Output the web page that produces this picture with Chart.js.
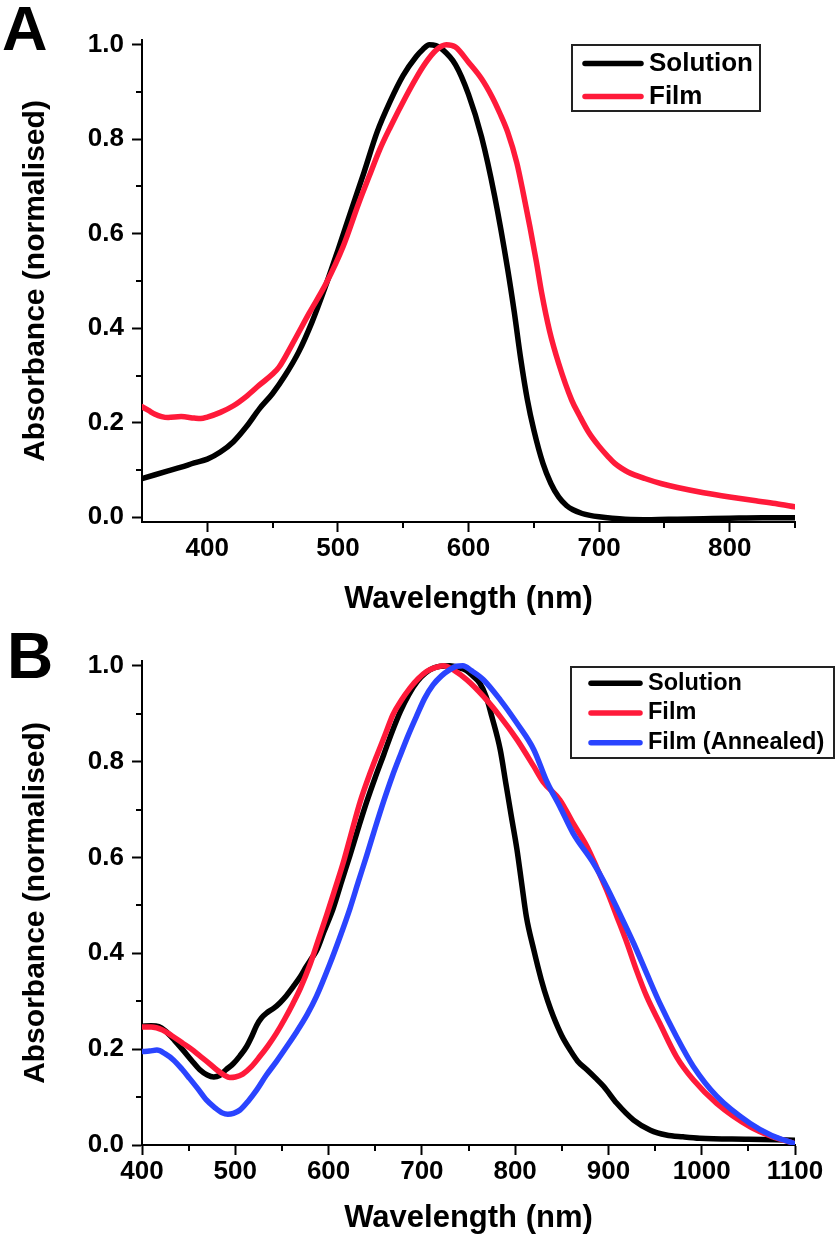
<!DOCTYPE html>
<html><head><meta charset="utf-8">
<script src="https://cdn.jsdelivr.net/npm/chart.js@4.4.0/dist/chart.umd.min.js"></script>
<style>
html,body{margin:0;padding:0;background:#fff;}
#wrap{position:relative;width:838px;height:1243px;overflow:hidden;background:#fff;}
canvas{position:absolute;left:0;}
.panel{position:absolute;font-family:'Liberation Sans',Arial,sans-serif;font-weight:bold;line-height:1;color:#000;}
</style></head>
<body><div id="wrap">
<canvas id="cA" width="838" height="620" style="top:0;width:838px;height:620px"></canvas>
<canvas id="cB" width="838" height="623" style="top:620px;width:838px;height:623px"></canvas>
<div class="panel" style="left:2px;top:-3px;font-size:63px;">A</div>
<div class="panel" style="left:7px;top:624px;font-size:64px;">B</div>
</div>
<script>
// ---------- Panel A ----------
const solA_wl  = [350,360,370,380,390,400,410,420,430,440,450,460,470,480,490,500,510,520,530,540,550,560,565,570,575,580,590,600,610,620,630,635,640,645,650,657,663,669,675,680,687,693,700,710,720,740,760,780,800,825,850];
const solA_abs = [0.082,0.090,0.098,0.106,0.115,0.123,0.138,0.160,0.192,0.230,0.262,0.302,0.350,0.412,0.485,0.565,0.648,0.730,0.815,0.880,0.935,0.975,0.990,1.000,0.998,0.990,0.958,0.895,0.805,0.680,0.525,0.435,0.335,0.250,0.185,0.114,0.072,0.043,0.025,0.016,0.008,0.004,0.001,-0.002,-0.004,-0.005,-0.004,-0.003,-0.002,-0.001,-0.001];
const filmA_wl  = [350,355,360,365,370,380,390,395,400,410,420,430,440,450,455,465,478,491,504,516,524,532,540,552,560,567,575,583,590,600,610,618,624,630,637,642,647,652,656,662,669,679,685,692,700,707,712,717,722,735,748,760,780,800,820,835,850];
const filmA_abs = [0.234,0.226,0.218,0.213,0.211,0.213,0.210,0.209,0.212,0.222,0.236,0.256,0.280,0.303,0.318,0.366,0.432,0.495,0.573,0.665,0.722,0.778,0.825,0.890,0.930,0.961,0.988,1.000,0.995,0.963,0.928,0.890,0.855,0.815,0.750,0.685,0.615,0.540,0.475,0.395,0.326,0.248,0.215,0.180,0.150,0.128,0.114,0.104,0.096,0.082,0.071,0.063,0.052,0.043,0.035,0.029,0.022];

// ---------- Panel B ----------
const solB_wl  = [400,410,418,425,435,444,453,462,470,477,483,490,498,505,512,518,523,528,534,541,548,555,562,570,576,582,587,595,605,614,623,632,641,650,659,668,677,686,695,704,712,720,730,740,748,755,762,769,775,784,790,796,802,807,812,820,828,835,841,850,859,867,877,886,895,909,927,945,962,980,998,1050,1100];
const solB_abs = [0.248,0.249,0.247,0.238,0.218,0.198,0.177,0.157,0.146,0.142,0.145,0.157,0.170,0.186,0.205,0.228,0.250,0.265,0.276,0.285,0.297,0.312,0.330,0.352,0.372,0.390,0.405,0.445,0.494,0.550,0.605,0.662,0.717,0.767,0.814,0.862,0.905,0.940,0.967,0.985,0.995,0.999,1.000,0.996,0.990,0.978,0.964,0.935,0.894,0.825,0.755,0.685,0.616,0.546,0.477,0.407,0.345,0.300,0.268,0.228,0.198,0.175,0.157,0.140,0.122,0.087,0.052,0.031,0.021,0.017,0.014,0.012,0.010];
const filmB_wl  = [400,410,422,432,444,453,462,471,480,488,494,500,508,517,526,535,544,553,562,570,580,589,598,607,616,625,634,643,652,661,669,678,687,696,705,714,723,735,748,766,784,802,820,830,848,862,877,887,898,909,920,930,941,955,973,991,1016,1052,1075,1098];
const filmB_abs = [0.246,0.246,0.240,0.228,0.212,0.200,0.186,0.172,0.157,0.146,0.141,0.142,0.148,0.163,0.184,0.207,0.233,0.263,0.296,0.328,0.376,0.428,0.480,0.535,0.591,0.655,0.717,0.768,0.814,0.858,0.898,0.928,0.953,0.973,0.988,0.996,1.000,0.990,0.971,0.936,0.894,0.846,0.790,0.758,0.720,0.672,0.623,0.581,0.532,0.477,0.421,0.365,0.310,0.254,0.184,0.136,0.087,0.038,0.018,0.004];
const annB_wl  = [400,408,416,425,434,443,451,460,469,478,486,492,498,505,514,523,533,544,555,566,577,587,601,612,623,632,641,650,659,668,677,686,695,703,712,721,730,737,744,753,766,784,802,820,834,848,862,884,898,912,927,941,955,973,991,1016,1052,1075,1098];
const annB_abs = [0.195,0.196,0.198,0.190,0.177,0.158,0.139,0.117,0.094,0.078,0.067,0.064,0.066,0.073,0.092,0.115,0.145,0.174,0.205,0.237,0.272,0.310,0.376,0.433,0.494,0.550,0.605,0.662,0.717,0.768,0.814,0.858,0.898,0.932,0.960,0.979,0.992,0.999,1.000,0.990,0.971,0.929,0.880,0.825,0.758,0.706,0.651,0.588,0.539,0.483,0.421,0.358,0.296,0.226,0.164,0.102,0.045,0.020,0.004];

// ---------- ticks & labels ----------
const xTicksA = [400,500,600,700,800];
const xMinorA = [450,550,650,750,850];
const xTicksB = [400,500,600,700,800,900,1000,1100];
const xMinorB = [450,550,650,750,850,950,1050];
const yTicks  = [0.0,0.2,0.4,0.6,0.8,1.0];
const yMinor  = [0.1,0.3,0.5,0.7,0.9];
const seriesNames = ['Solution','Film','Film (Annealed)'];
const seriesColors = ['#000000','#ff1a3a','#2a44ff'];
const xTitle = 'Wavelength (nm)';
const yTitle = 'Absorbance (normalised)';

const FONT = "'Liberation Sans', Arial, sans-serif";
const pts = (wl, ab) => wl.map((x, i) => ({x: x, y: ab[i]}));

const minorTicks = {
  id: 'minorTicks',
  afterDraw(chart, args, o) {
    const ctx = chart.ctx, xs = chart.scales.x, ys = chart.scales.y;
    ctx.save();
    ctx.strokeStyle = '#000'; ctx.lineWidth = 2;
    (o.x || []).forEach(v => {
      const px = Math.round(xs.getPixelForValue(v));
      ctx.beginPath(); ctx.moveTo(px, xs.top); ctx.lineTo(px, xs.top + o.len); ctx.stroke();
    });
    (o.y || []).forEach(v => {
      const py = Math.round(ys.getPixelForValue(v));
      ctx.beginPath(); ctx.moveTo(ys.right, py); ctx.lineTo(ys.right - o.len, py); ctx.stroke();
    });
    ctx.restore();
  }
};

const boxLegend = {
  id: 'boxLegend',
  afterDraw(chart, args, o) {
    const ctx = chart.ctx;
    ctx.save();
    ctx.lineWidth = 2; ctx.strokeStyle = '#222';
    ctx.strokeRect(o.x, o.y, o.w, o.h);
    chart.data.datasets.forEach((ds, i) => {
      const yy = o.row0 + i * o.gap;
      ctx.beginPath(); ctx.lineCap = 'round'; ctx.lineWidth = 5.5; ctx.strokeStyle = ds.borderColor;
      ctx.moveTo(o.l1, yy); ctx.lineTo(o.l2, yy); ctx.stroke();
      ctx.fillStyle = '#000'; ctx.font = o.font; ctx.textBaseline = 'middle'; ctx.textAlign = 'left';
      ctx.fillText(ds.label, o.tx, yy);
    });
    ctx.restore();
  }
};

function build(id, datasets, p) {
  return new Chart(document.getElementById(id), {
    type: 'line',
    data: {datasets: datasets},
    options: {
      responsive: false, animation: false,
      layout: {padding: {left: 0, top: p.top, right: 43, bottom: 0}},
      plugins: {
        legend: {display: false}, tooltip: {enabled: false},
        minorTicks: {x: p.xMinor, y: yMinor, len: 6},
        boxLegend: p.legend
      },
      elements: {
        point: {radius: 0},
        line: {borderWidth: 5.5, cubicInterpolationMode: 'monotone', borderJoinStyle: 'round', borderCapStyle: 'round'}
      },
      scales: {
        x: {
          type: 'linear', min: p.xmin, max: p.xmax,
          afterBuildTicks: s => { s.ticks = p.xTicks.map(v => ({value: v})); },
          afterFit: s => { s.height = p.xh; },
          ticks: {color: '#000', padding: 1, maxRotation: 0, autoSkip: false,
                  font: {family: FONT, size: 26, weight: 'bold'}, callback: v => String(v)},
          grid: {display: true, drawOnChartArea: false, drawTicks: true, tickLength: 10, tickWidth: 2, tickColor: '#000'},
          border: {display: true, color: '#000', width: 2},
          title: {display: true, text: xTitle, color: '#000', font: {family: FONT, size: 31, weight: 'bold'}, padding: {top: 0, bottom: p.xtpad}}
        },
        y: {
          type: 'linear', min: p.ymin, max: p.ymax,
          afterBuildTicks: s => { s.ticks = yTicks.map(v => ({value: v})); },
          afterFit: s => { s.width = 142; },
          ticks: {color: '#000', padding: 8, font: {family: FONT, size: 26, weight: 'bold'}, callback: v => Number(v).toFixed(1)},
          grid: {display: true, drawOnChartArea: false, drawTicks: true, tickLength: 10, tickWidth: 2, tickColor: '#000'},
          border: {display: true, color: '#000', width: 2},
          title: {display: true, text: yTitle, color: '#000', font: {family: FONT, size: 30, weight: 'bold'}, padding: {top: 18, bottom: 0}}
        }
      }
    },
    plugins: [minorTicks, boxLegend]
  });
}

build('cA', [
  {label: seriesNames[0], data: pts(solA_wl, solA_abs), borderColor: seriesColors[0], backgroundColor: seriesColors[0], order: 3},
  {label: seriesNames[1], data: pts(filmA_wl, filmA_abs), borderColor: seriesColors[1], backgroundColor: seriesColors[1], order: 2}
], {top: 40, xmin: 350, xmax: 850, ymin: -0.01, ymax: 1.01, xTicks: xTicksA, xMinor: xMinorA, xh: 98, xtpad: 2,
    legend: {x: 572, y: 45, w: 188, h: 66, row0: 63.5, gap: 33, l1: 585, l2: 641, tx: 649, font: 'bold 26px ' + FONT}});

build('cB', [
  {label: seriesNames[0], data: pts(solB_wl, solB_abs), borderColor: seriesColors[0], backgroundColor: seriesColors[0], order: 3},
  {label: seriesNames[1], data: pts(filmB_wl, filmB_abs), borderColor: seriesColors[1], backgroundColor: seriesColors[1], order: 2},
  {label: seriesNames[2], data: pts(annB_wl, annB_abs), borderColor: seriesColors[2], backgroundColor: seriesColors[2], order: 1}
], {top: 41, xmin: 400, xmax: 1100, ymin: 0, ymax: 1.01, xTicks: xTicksB, xMinor: xMinorB, xh: 98, xtpad: 6,
    legend: {x: 571, y: 47, w: 263, h: 91, row0: 63.3, gap: 29.7, l1: 591, l2: 640, tx: 648, font: 'bold 23.5px ' + FONT}});
</script>
</body></html>
